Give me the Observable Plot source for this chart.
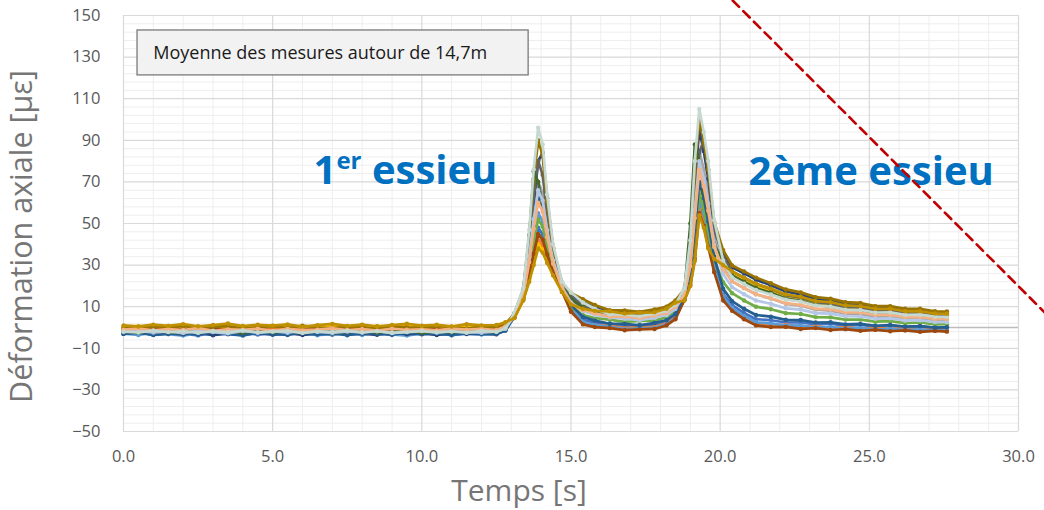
<!DOCTYPE html>
<html>
<head>
<meta charset="utf-8">
<script src="https://cdn.jsdelivr.net/npm/d3@7"></script>
<script src="https://cdn.jsdelivr.net/npm/@observablehq/plot@0.6"></script>
<style>
  html, body { margin: 0; padding: 0; background: #ffffff; }
  #chart svg { display: block; }
</style>
</head>
<body>
<div id="chart"></div>
<script>
// ---------- DATA ----------
const time = [0,0.5,1,1.5,2,2.5,3,3.5,4,4.5,5,5.5,6,6.5,7,7.5,8,8.5,9,9.5,10,10.5,11,11.5,12,12.5,
  12.8,13.1,13.4,13.6,13.75,13.9,14.05,14.2,14.4,14.7,15.0,15.4,
  15.8,16.3,16.8,17.3,17.8,18.2,
  18.5,18.8,19.0,19.15,19.3,19.45,19.6,19.8,20.1,20.4,20.8,
  21.2,21.7,22.2,22.7,23.2,23.7,24.2,24.7,25.2,25.7,26.2,26.7,27.2,27.6];

const mesure01 = [-3,-2.5,-3.5,-2,-3,-3.8,-2.6,-3.2,-2.4,-3.4,-2.8,-3.6,-2.2,-3,-3.5,-2.7,-3.1,-2.3,-3.6,-2.9,-3.3,-2.5,-3.7,-2.8,-3.1,-2.6,
  -1.5,4.9,14,26.3,37.8,48,44.8,36.6,27.6,17.9,8.7,3.7,
  2.3,1.9,0.8,1.2,1.1,3,
  6,13.7,22.6,37.8,60,53.5,43,29.4,16.1,10.8,7,
  4,3.5,2.4,2.5,1.5,1.8,0.9,1.3,0.5,0.9,0.2,0.6,-0.2,0.2];
const mesure02 = [-1,-0.4,-1.3,-0.7,-1.5,-0.8,-0.2,-1.2,-0.9,-1.6,-0.5,-1.1,-0.6,-1.4,-0.9,-0.3,-1.2,-0.8,-1.5,-0.6,-1,-1.3,-0.4,-1.1,-0.7,-0.9,
  0.5,4.7,13.4,23.8,33.2,42,39.6,33.3,26.1,17.4,7.6,2.3,
  1.1,0.8,-0.3,0.2,0.3,2,
  5,13.4,21.3,34.9,57,50.8,40.5,27.7,14,8.9,5,
  2,1.2,1.3,0.3,0.6,-0.2,0.2,-0.6,-0.1,-0.8,-0.4,-1.1,-0.6,-1];
const mesure03 = [-2,-1.4,-2.5,-1.8,-2.2,-1.3,-2.7,-1.9,-2.1,-1.5,-2.4,-1.7,-2.6,-2,-1.4,-2.3,-1.8,-2.5,-1.6,-2.2,-1.9,-2.6,-1.5,-2.1,-1.8,-2.3,
  -0.5,5.9,16.3,35.8,55.3,70,64.6,49.2,33.3,19.8,12.9,9.2,
  7.1,5.8,5.3,4.6,5.8,7,
  10,16.7,33.4,61.3,85,76.1,63.6,42.6,28.8,22.2,19,
  16,13.9,11.4,10.5,8.6,8.1,6.6,6.4,5.2,5.3,4.1,4.2,3.2,3.1];
const mesure04 = [0,0.6,-0.4,0.8,0.2,-0.3,0.7,0.1,-0.5,0.5,0.9,-0.2,0.4,0,0.8,-0.4,0.3,0.6,-0.1,0.7,0.2,-0.3,0.5,0.9,0.1,0.3,
  1.5,4.6,13.2,22.8,31.4,40,37.6,32,25.5,17.2,9,8.1,
  7.1,6.8,5.7,6.1,6.3,8,
  11,14.4,25.3,43.5,66,59,48.1,35.3,31,26,23,
  20,17.6,14.8,13.6,11.5,10.9,9.2,8.9,7.6,7.6,6.4,6.4,5.2,5.1];
const mesure05 = [-3,-3.6,-2.5,-3.2,-3.9,-2.7,-3.3,-2.9,-3.8,-2.4,-3.5,-3,-2.6,-3.7,-3.1,-2.8,-3.6,-2.5,-3.3,-3.9,-2.7,-3.2,-3.5,-2.9,-3.4,-3,
  -1.5,5.2,14.7,29.3,43.3,55,51.1,40.6,29.4,18.5,9.2,2.7,
  1.1,0.3,-0.8,-0.4,-0.2,1.5,
  4.5,14,23.5,39.7,62,55.4,44.7,30,15,9.4,5.5,
  2.5,2,0.9,1,0,0.3,-0.6,-0.2,-1,-0.6,-1.3,-0.9,-1.6,-1.4];
const mesure06 = [-2,-2.6,-1.5,-2.3,-1.8,-2.7,-1.6,-2.1,-2.5,-1.4,-2.2,-1.9,-2.8,-1.7,-2.4,-2,-1.5,-2.6,-1.8,-2.3,-2.1,-1.6,-2.7,-1.9,-2.2,-2,
  -0.5,5.1,14.4,28,41,52,48.5,38.9,28.6,18.2,9.8,6,
  4.5,3.8,2.7,3.2,3.3,5,
  8,14.2,24.4,41.6,64,57.2,46.4,32.4,21.8,16.5,13,
  10,8.8,6.9,6.5,5,4.9,3.8,3.8,2.8,3.1,2.1,2.4,1.5,1.6];
const mesure07 = [-3,-2.4,-3.5,-2.8,-3.3,-2.5,-3.7,-2.9,-3.1,-2.6,-3.4,-2.7,-3.6,-3,-2.5,-3.3,-2.9,-3.5,-2.6,-3.2,-2.8,-3.6,-2.7,-3.1,-2.9,-3.2,
  -1,6.5,17.7,41.8,60,80,84,62,38,21,15.4,12.2,
  9.6,7.8,7.3,6.6,7.7,9,
  12,17.8,37.6,70.4,95,84.8,71.6,48.2,36,28.9,26,
  23,20.3,17.3,15.9,13.6,12.9,11.2,10.8,9.3,9.3,8,8,6.8,6.7];
const mesure08 = [-1,-1.6,-0.5,-1.2,-0.8,-1.7,-0.6,-1.3,-1,-0.4,-1.5,-0.9,-1.1,-0.3,-1.4,-0.7,-1.2,-1.8,-0.6,-1,-1.3,-0.5,-1.6,-0.8,-1.1,-0.9,
  0.5,4.8,13.7,25,35.5,45,42.2,35,26.8,17.6,7.7,1.5,
  0.2,-0.3,-1.3,-0.9,-0.7,1,
  4,13.1,20.4,33,55,48.9,38.8,26.6,13,8,4,
  1,0.2,0.3,-0.7,-0.3,-1.2,-0.8,-1.6,-1.1,-1.8,-1.4,-2.1,-1.6,-2];
const mesure09 = [-2,-1.5,-2.6,-2.1,-1.7,-2.4,-1.3,-2.2,-2.8,-1.6,-2,-2.5,-1.4,-2.3,-1.9,-2.7,-1.6,-2.1,-2.4,-1.5,-2.2,-1.8,-2.6,-1.7,-2,-2.3,
  -0.5,6.3,17.3,40,63.1,80,73.4,54.8,35.8,20.6,14.6,10.9,
  8.4,6.8,6.2,5.5,6.7,8,
  11,17.3,33,60,84,90,76,47,33.7,27,24,
  21,18.5,15.6,14.3,12.2,11.5,9.9,9.5,8.1,8.1,6.9,6.9,5.7,5.6];
const mesure10 = [0,-0.6,0.5,-0.2,0.8,-0.4,0.3,0.7,-0.5,0.2,0.6,-0.3,0.9,0,-0.4,0.5,0.2,-0.6,0.7,0.1,-0.2,0.6,0.3,-0.5,0.4,0.2,
  1.5,6.8,18.4,44.5,71.4,90,82.8,60.7,38.5,21.5,16.6,13.6,
  10.8,8.3,8.2,7.5,8.7,10,
  13,18.4,39.8,75.2,100,89.4,75.8,50.6,37.2,29.8,27,
  24,21.3,18.3,16.9,14.6,13.9,12.2,11.8,10.3,10.3,9,9,7.8,7.7];
const mesure11 = [-3,-2.5,-3.6,-3.1,-2.7,-3.4,-2.3,-3.2,-3.8,-2.6,-3,-3.5,-2.4,-3.3,-2.9,-3.7,-2.6,-3.1,-3.4,-2.5,-3.2,-2.8,-3.6,-2.7,-3,-3.3,
  -1.5,5.5,15.5,32.3,48.9,62,57.3,44.5,31.2,19,10.8,5.1,
  3.3,1.8,1.7,1,2.2,3.5,
  6.5,14.9,26.8,46.9,70,62.3,51,34,18.6,12.7,9,
  6,5.2,3.7,3.6,2.4,2.5,1.5,1.7,0.8,1.2,0.4,0.7,-0.1,0.1];
const mesure12 = [-2,-2.5,-1.6,-2.2,-2.7,-1.5,-2.1,-1.8,-2.6,-1.4,-2.3,-1.9,-2.5,-1.7,-2.8,-2,-1.6,-2.4,-2.1,-1.5,-2.6,-1.9,-2.2,-1.7,-2.4,-2.1,
  -0.5,6.1,17.5,44,75,70,58,46,33,20.2,13.6,9.6,
  7.3,5.3,5.2,4.5,5.7,7,
  10,17,50,88,80,66,55,40,31.8,25,22,
  19,16.7,13.9,12.8,10.7,10.2,8.6,8.3,7,7,5.8,5.8,4.7,4.6];
const mesure13 = [-2,-1.6,-2.4,-1.9,-2.7,-1.5,-2.2,-2.8,-1.7,-2.3,-1.8,-2.5,-1.4,-2.1,-2.6,-1.9,-2.3,-1.6,-2.7,-2,-1.5,-2.4,-1.8,-2.2,-2.5,-1.9,
  -0.5,5.7,15.9,34,52.1,66,61,46.8,32.2,19.4,12,7.9,
  6,4.8,4.2,3.5,4.7,6,
  9,16.1,31.2,56.5,80,71.5,59.4,39.8,25.7,19.4,16,
  13,11.4,9.2,8.6,6.9,6.7,5.4,5.3,4.2,4.4,3.4,3.5,2.6,2.6];
const mesure14 = [-1,-0.5,-1.4,-0.8,-1.2,-0.3,-1.6,-0.9,-1.1,-0.6,-1.5,-0.7,-1.3,-1,-0.4,-1.2,-0.8,-1.5,-0.6,-1.1,-0.9,-1.4,-0.5,-1,-0.7,-1.2,
  0.5,5.5,15.3,31.5,47.5,60,55.8,43.5,30.7,18.9,11.5,8.5,
  6.8,5.2,5.3,4.5,5.8,7,
  10,15.6,29.5,52.6,76,67.8,56.1,38.7,28.1,22.2,19,
  16,14.1,11.7,10.9,9.1,8.7,7.3,7.2,6,6.1,5,5.1,4.1,4.1];
const mesure15 = [-2,-2.4,-1.5,-2.2,-1.8,-2.6,-1.7,-2.3,-1.4,-2.5,-2,-1.6,-2.7,-1.9,-2.1,-1.5,-2.4,-1.8,-2.6,-2.2,-1.7,-2.3,-1.9,-2.5,-1.6,-2.1,
  -0.5,7,19,47,76,96,88,64,40,22,16.8,12,
  9,6.3,6.2,5.4,6.7,8,
  11,19,42,80,105,94,80,51.6,32.2,24.1,21,
  18,15.9,13.4,12.5,10.6,10.1,8.6,8.4,7.2,7.3,6.1,6.2,5.2,5.1];
const mesure16 = [1,0.5,1.4,0.8,1.6,0.6,1.2,1.9,0.7,1.3,0.9,1.5,0.4,1.1,1.7,0.8,1.4,0.6,1.2,1.8,0.9,1.3,0.5,1.6,1,1.2,
  2.5,4.5,13,22,30,38,36,31,25,17,11,9,
  8,7.8,6.7,7.1,7.3,9,
  12,13,20,32,54,48,38,33,30,27,24,
  21,18.7,15.9,14.8,12.7,12.2,10.6,10.3,9,9,7.8,7.8,6.7,6.6];

const seriesValues = [mesure01, mesure02, mesure03, mesure04, mesure05, mesure06, mesure07, mesure08,
                      mesure09, mesure10, mesure11, mesure12, mesure13, mesure14, mesure15, mesure16];
const seriesColors = ["#4472c4","#ed7d31","#a5a5a5","#ffc000","#5b9bd5","#70ad47","#264478","#9e480e",
                      "#636363","#997300","#255e91","#43682b","#b4c7e7","#f4b183","#c5d9d0","#bf9000"];

const xTicks = [0, 5, 10, 15, 20, 25, 30];
const yTicks = [-50, -30, -10, 10, 30, 50, 70, 90, 110, 130, 150];

const xLabel = "Temps [s]";
const yLabel = "Déformation axiale [µε]";
const noteText = "Moyenne des mesures autour de 14,7m";
const noteBox = [{x1: 0.47, x2: 13.58, y1: 121.2, y2: 142.8}];
const noteAnchor = [{t: 1.0, v: 132, label: noteText}];
const axleLabels = [{t: 6.37, v: 69.2, label: "1er essieu"}, {t: 20.95, v: 68.3, label: "2ème essieu"}];
const cutLine = [{t: 20.42, v: 157.2}, {t: 30.88, v: 7.2}];

// ---------- BUILD ----------
seriesValues.forEach((s, i) => { if (s.length !== time.length) throw new Error("series " + (i+1) + " length " + s.length); });

const minorX = d3.range(0, 31, 1).filter(d => d % 5 !== 0);
const minorY = d3.range(-50, 151, 4).filter(d => (d + 50) % 20 !== 0);

const seriesMarks = seriesValues.flatMap((vals, i) => {
  const rows = vals.map((v, j) => ({t: time[j], v}));
  return [
    Plot.line(rows, {x: "t", y: "v", stroke: seriesColors[i], strokeWidth: 2.7}),
    Plot.dot(rows, {x: "t", y: "v", r: 2.2, fill: seriesColors[i]})
  ];
});

const font = "'Open Sans', sans-serif";

const chart = Plot.plot({
  width: 1044,
  height: 510,
  marginLeft: 123,
  marginRight: 26,
  marginTop: 15,
  marginBottom: 79,
  style: {fontFamily: font, fontSize: "16.5px", color: "#595959", background: "#ffffff"},
  x: {domain: [0, 30], ticks: xTicks, tickFormat: d => d.toFixed(1), tickSize: 0, tickPadding: 19, label: null},
  y: {domain: [-50, 150], ticks: yTicks, tickSize: 0, tickPadding: 23, label: null},
  marks: [
    Plot.ruleX(minorX, {stroke: "#eeeeee", strokeWidth: 1}),
    Plot.ruleY(minorY, {stroke: "#eeeeee", strokeWidth: 1}),
    Plot.ruleX(xTicks, {stroke: "#d9d9d9", strokeWidth: 1.2}),
    Plot.ruleY(yTicks, {stroke: "#d9d9d9", strokeWidth: 1.2}),
    Plot.ruleY([0], {stroke: "#bcbcbc", strokeWidth: 1.4}),
    Plot.rect(noteBox, {x1: "x1", x2: "x2", y1: "y1", y2: "y2", fill: "#f2f2f2", stroke: "#7a7a7a", strokeWidth: 1.3}),
    Plot.text(noteAnchor, {x: "t", y: "v", text: "label", textAnchor: "start", fill: "#1a1a1a", fontSize: 18}),
    ...seriesMarks,
    Plot.text(axleLabels, {x: "t", y: "v", text: "label", textAnchor: "start", lineAnchor: "bottom",
                           fill: "#0070c0", fontSize: 40, fontWeight: "bold"}),
    Plot.line(cutLine, {x: "t", y: "v", stroke: "#c00000", strokeWidth: 2.6, strokeDasharray: "9,6"}),
    Plot.text([yLabel], {frameAnchor: "left", text: d => d, rotate: -90, textAnchor: "middle", lineAnchor: "middle",
                         dx: -101, dy: 13, fill: "#767676", fontSize: 30.5}),
    Plot.text([xLabel], {frameAnchor: "bottom", text: d => d, textAnchor: "middle", lineAnchor: "bottom",
                         dx: -52, dy: 69, fill: "#767676", fontSize: 30})
  ]
});

// superscript "er" in "1er essieu"
d3.select(chart).selectAll("text").each(function() {
  if (this.textContent === "1er essieu") {
    const el = d3.select(this);
    el.text("");
    el.append("tspan").text("1");
    el.append("tspan").attr("font-size", 24).attr("dy", -15).text("er");
    el.append("tspan").attr("dy", 15).text(" essieu");
  }
});

document.getElementById("chart").appendChild(chart);
</script>
</body>
</html>
